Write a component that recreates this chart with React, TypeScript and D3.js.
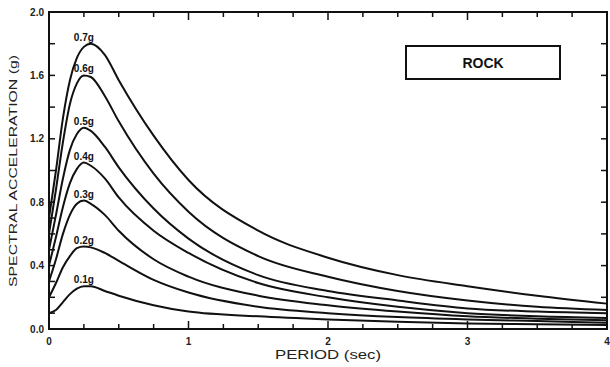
import React, { useEffect, useRef } from 'react';
import * as d3 from 'd3';

// Period grid (sec) shared by all curves
const periods = [0, 0.05, 0.1, 0.15, 0.2, 0.25, 0.3, 0.4, 0.5, 0.75, 1, 1.5, 2, 2.5, 3, 3.5, 4];

const seriesLabels = ['0.7g', '0.6g', '0.5g', '0.4g', '0.3g', '0.2g', '0.1g'];

const sa07 = [0.7, 1.0, 1.33, 1.57, 1.71, 1.78, 1.8, 1.73, 1.57, 1.22, 0.94, 0.62, 0.45, 0.34, 0.27, 0.21, 0.16];
const sa06 = [0.6, 0.88, 1.18, 1.42, 1.55, 1.6, 1.59, 1.47, 1.31, 0.98, 0.74, 0.46, 0.33, 0.24, 0.18, 0.14, 0.12];
const sa05 = [0.5, 0.72, 0.95, 1.13, 1.23, 1.27, 1.25, 1.15, 1.02, 0.76, 0.57, 0.34, 0.24, 0.18, 0.13, 0.11, 0.1];
const sa04 = [0.4, 0.58, 0.77, 0.92, 1.01, 1.05, 1.03, 0.95, 0.83, 0.62, 0.48, 0.29, 0.2, 0.14, 0.1, 0.08, 0.07];
const sa03 = [0.3, 0.44, 0.6, 0.72, 0.79, 0.81, 0.79, 0.72, 0.62, 0.44, 0.33, 0.21, 0.15, 0.11, 0.08, 0.065, 0.055];
const sa02 = [0.2, 0.29, 0.39, 0.46, 0.51, 0.52, 0.515, 0.48, 0.43, 0.31, 0.23, 0.14, 0.1, 0.075, 0.06, 0.05, 0.04];
const sa01 = [0.1, 0.12, 0.17, 0.22, 0.255, 0.27, 0.27, 0.24, 0.21, 0.15, 0.11, 0.08, 0.06, 0.045, 0.035, 0.03, 0.025];

const seriesValues = [sa07, sa06, sa05, sa04, sa03, sa02, sa01];

const xTickLabels = [0, 1, 2, 3, 4];
const xMinorTicks = d3.range(0, 4.001, 0.25);
const yTickLabels = [0, 0.4, 0.8, 1.2, 1.6, 2.0];
const yLeftTicks = [0.1, 0.2, 0.3, 0.4, 0.5, 0.6, 0.7, 0.8, 1.0, 1.2, 1.4, 1.6, 1.8];
const yRightTicks = [0.2, 0.4, 0.6, 0.8, 1.0, 1.2, 1.4, 1.6, 1.8];

const width = 610;
const height = 367;

const ResponseSpectra: React.FC = () => {
  const svgRef = useRef<SVGSVGElement>(null);

  useEffect(() => {
    if (!svgRef.current) return;
    const svg = d3.select(svgRef.current);
    svg.selectAll('*').remove();

    const margin = { top: 12, right: 3, bottom: 38, left: 49 };
    const x0 = margin.left;
    const x1 = width - margin.right;
    const y0 = height - margin.bottom;
    const y1 = margin.top;

    const xScale = d3.scaleLinear().domain([0, 4]).range([x0, x1]);
    const yScale = d3.scaleLinear().domain([0, 2]).range([y0, y1]);

    const font = '"Liberation Sans", Arial, sans-serif';

    // curves
    const line = d3
      .line<[number, number]>()
      .x(d => xScale(d[0]))
      .y(d => yScale(d[1]))
      .curve(d3.curveMonotoneX);

    seriesValues.forEach((vals, i) => {
      const pts = periods.map((p, j) => [p, vals[j]] as [number, number]);
      svg
        .append('path')
        .attr('d', line(pts) as string)
        .attr('fill', 'none')
        .attr('stroke', '#111')
        .attr('stroke-width', 2);

      const peak = d3.max(vals) as number;
      svg
        .append('text')
        .attr('x', xScale(0.25))
        .attr('y', yScale(peak) - 3)
        .attr('text-anchor', 'middle')
        .style('font-family', font)
        .style('font-size', '10px')
        .style('font-weight', 'bold')
        .attr('fill', '#111')
        .text(seriesLabels[i]);
    });

    // frame
    svg
      .append('rect')
      .attr('x', x0)
      .attr('y', y1)
      .attr('width', x1 - x0)
      .attr('height', y0 - y1)
      .attr('fill', 'none')
      .attr('stroke', '#111')
      .attr('stroke-width', 2);

    // x ticks (bottom + top, inward)
    xMinorTicks.forEach(t => {
      const len = Number.isInteger(t) ? 8 : 5;
      svg.append('line')
        .attr('x1', xScale(t)).attr('x2', xScale(t))
        .attr('y1', y0).attr('y2', y0 - len)
        .attr('stroke', '#111').attr('stroke-width', 1.5);
      svg.append('line')
        .attr('x1', xScale(t)).attr('x2', xScale(t))
        .attr('y1', y1).attr('y2', y1 + len)
        .attr('stroke', '#111').attr('stroke-width', 1.5);
    });

    // y ticks
    yLeftTicks.forEach(t => {
      svg.append('line')
        .attr('x1', x0).attr('x2', x0 + 6)
        .attr('y1', yScale(t)).attr('y2', yScale(t))
        .attr('stroke', '#111').attr('stroke-width', 1.5);
    });
    yRightTicks.forEach(t => {
      svg.append('line')
        .attr('x1', x1).attr('x2', x1 - 6)
        .attr('y1', yScale(t)).attr('y2', yScale(t))
        .attr('stroke', '#111').attr('stroke-width', 1.5);
    });

    // tick labels
    xTickLabels.forEach(t => {
      svg.append('text')
        .attr('x', xScale(t))
        .attr('y', y0 + 16)
        .attr('text-anchor', 'middle')
        .style('font-family', font)
        .style('font-size', '10px')
        .style('font-weight', 'bold')
        .attr('fill', '#222')
        .text(String(t));
    });
    yTickLabels.forEach(t => {
      svg.append('text')
        .attr('x', x0 - 5)
        .attr('y', yScale(t) + 3.5)
        .attr('text-anchor', 'end')
        .style('font-family', font)
        .style('font-size', '10px')
        .style('font-weight', 'bold')
        .attr('fill', '#222')
        .text(t.toFixed(1));
    });

    // axis titles
    svg.append('text')
      .attr('x', 328)
      .attr('y', 359)
      .attr('text-anchor', 'middle')
      .attr('textLength', 106)
      .attr('lengthAdjust', 'spacingAndGlyphs')
      .style('font-family', font)
      .style('font-size', '12px')
      .attr('fill', '#222')
      .text('PERIOD  (sec)');

    svg.append('text')
      .attr('transform', `translate(17,171) rotate(-90)`)
      .attr('text-anchor', 'middle')
      .attr('textLength', 232)
      .attr('lengthAdjust', 'spacingAndGlyphs')
      .style('font-family', font)
      .style('font-size', '11px')
      .attr('fill', '#222')
      .text('SPECTRAL  ACCELERATION  (g)');

    // ROCK box
    svg.append('rect')
      .attr('x', 406)
      .attr('y', 46)
      .attr('width', 154)
      .attr('height', 33)
      .attr('fill', 'none')
      .attr('stroke', '#111')
      .attr('stroke-width', 2);
    svg.append('text')
      .attr('x', 483)
      .attr('y', 68)
      .attr('text-anchor', 'middle')
      .style('font-family', font)
      .style('font-size', '14px')
      .style('font-weight', 'bold')
      .attr('fill', '#111')
      .text('ROCK');
  }, []);

  return (
    <svg
      ref={svgRef}
      width={width}
      height={height}
      style={{ position: 'absolute', left: 0, top: 0, background: '#fff' }}
    />
  );
};

export default function App() {
  return <ResponseSpectra />;
}
